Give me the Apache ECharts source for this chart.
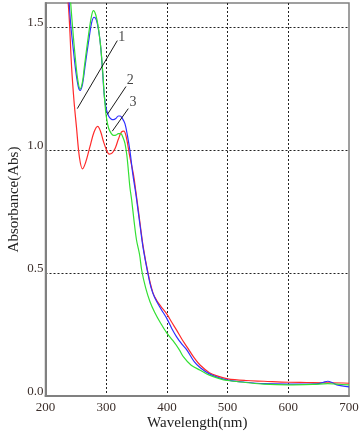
<!DOCTYPE html>
<html>
<head>
<meta charset="utf-8">
<script src="https://cdn.jsdelivr.net/npm/echarts@6/dist/echarts.min.js"></script>
<style>
html,body{margin:0;padding:0;background:#fff;}
#chart{width:362px;height:433px;}
</style>
</head>
<body>
<div id="chart"></div>
<script>
// Curve 1 (red)
const redWl  = [232,238,243,247,251,256,261,266,273,280,286,291,295,300,305,310,315,320,325,329,333,339,345,349,353,361,369,377,383,390,400,408,416,425,433,445,455,470,485,500,530,560,600,630,660,670,700];
const redAbs = [1.72,1.58,1.339,1.2,1.095,0.97,0.925,0.95,1.013,1.075,1.098,1.075,1.04,1.005,0.985,0.99,1.01,1.045,1.074,1.078,1.055,0.973,0.9,0.83,0.756,0.607,0.499,0.42,0.39,0.365,0.333,0.3,0.268,0.23,0.2,0.155,0.125,0.095,0.08,0.07,0.063,0.06,0.056,0.055,0.054,0.054,0.052];
// Curve 2 (blue)
const blueWl  = [236,239,242,246,250,254,257,261,265,268,272,276,280,284,288,291,294,297,300,304,308,312,316,320,323,327,331,335,339,344,349,353,356,361,369,374,380,390,400,408,416,425,433,445,455,470,485,500,530,560,600,630,650,658,665,672,680,700];
const blueAbs = [1.72,1.6,1.5,1.407,1.32,1.26,1.244,1.27,1.34,1.393,1.46,1.52,1.542,1.53,1.48,1.42,1.32,1.22,1.17,1.14,1.128,1.125,1.13,1.14,1.14,1.128,1.108,1.06,1.0,0.9,0.82,0.745,0.69,0.6,0.495,0.44,0.4,0.355,0.315,0.275,0.241,0.21,0.187,0.14,0.115,0.09,0.075,0.065,0.056,0.05,0.048,0.048,0.05,0.056,0.06,0.055,0.045,0.037];
// Curve 3 (green)
const greenWl  = [238.5,241.5,245,249,253,257,261,264,268,272,276,279,283,287,291,294,297,300,304,308,312,316,320,324,328,331,334,336,339,342,346,350,355,358.5,365,372,380,390,400,410,420,427,440,455,470,485,500,530,560,600,640,665,680,700];
const greenAbs = [1.72,1.6,1.49,1.379,1.29,1.25,1.28,1.34,1.417,1.49,1.55,1.569,1.55,1.501,1.42,1.33,1.22,1.14,1.09,1.07,1.061,1.062,1.068,1.068,1.05,1.027,0.98,0.932,0.851,0.797,0.71,0.634,0.575,0.512,0.44,0.385,0.34,0.295,0.256,0.225,0.19,0.16,0.125,0.105,0.085,0.072,0.063,0.055,0.048,0.045,0.047,0.05,0.048,0.045];

// Axis ticks
const xTicks = [200,300,400,500,600,700];
const yTicks = [0.0,0.5,1.0,1.5];

// Annotation leader lines: [wlStart, absStart, wlEnd, absEnd] and label
const annoNames = ['1','2','3'];
const annoLines = [[252.4,1.17,318.3,1.447],[301.8,1.146,332.6,1.26],[310,1.078,336.4,1.17]];
const annoLabelPos = [[325.5,1.462],[339.5,1.285],[344,1.195]];

const pairs = (xs, ys) => xs.map((x,i)=>[x, ys[i]]);
const font = 'Liberation Serif';

const series = [
  {name:'1', type:'line', data:pairs(redWl,redAbs), smooth:0.35, symbol:'none', clip:true, lineStyle:{color:'#ff2a2a', width:1.2}, z:3},
  {name:'2', type:'line', data:pairs(blueWl,blueAbs), smooth:0.35, symbol:'none', clip:true, lineStyle:{color:'#3030ff', width:1.2}, z:4},
  {name:'3', type:'line', data:pairs(greenWl,greenAbs), smooth:0.35, symbol:'none', clip:true, lineStyle:{color:'#33e033', width:1.2}, z:5}
];
annoLines.forEach((l,i)=>{
  series.push({type:'line', data:[[l[0],l[1]],[l[2],l[3]]], symbol:'none', lineStyle:{color:'#000', width:0.9}, z:6, silent:true});
});
series.push({type:'scatter', symbolSize:0, z:7, silent:true,
  data: annoLabelPos.map((p,i)=>({value:p, name:annoNames[i]})),
  label:{show:true, position:'inside', formatter:p=>p.name, fontFamily:font, fontSize:14, color:'#111'}});

const chart = echarts.init(document.getElementById('chart'));
chart.setOption({
  animation:false,
  backgroundColor:'#fff',
  grid:{left:45.5, right:13, top:3, bottom:37, show:true, borderColor:'#808080', borderWidth:1.5, containLabel:false, outerBoundsMode:'none'},
  xAxis:{
    type:'value', min:xTicks[0], max:xTicks[xTicks.length-1], interval:100,
    name:'Wavelength(nm)', nameLocation:'middle', nameGap:20, nameMoveOverlap:false,
    nameTextStyle:{fontFamily:font, fontSize:15, color:'#222'},
    axisLine:{show:true, lineStyle:{color:'#808080', width:2}},
    axisTick:{show:false},
    axisLabel:{fontFamily:font, fontSize:13, color:'#3b2e2a', margin:5},
    splitLine:{show:true, showMinLine:false, showMaxLine:false, lineStyle:{color:'#222', type:[2,2], width:1}}
  },
  yAxis:{
    type:'value', min:0, max:1.6, interval:0.5,
    name:'Absorbance(Abs)', nameLocation:'middle', nameGap:24, nameMoveOverlap:false,
    nameTextStyle:{fontFamily:font, fontSize:15, color:'#222'},
    axisLine:{show:true, lineStyle:{color:'#808080', width:2}},
    axisTick:{show:false},
    axisLabel:{fontFamily:font, fontSize:13, color:'#3b2e2a', margin:2, showMaxLabel:false, verticalAlign:'bottom', lineHeight:9,
      formatter:v=>v.toFixed(1)},
    splitLine:{show:true, showMinLine:false, showMaxLine:false, lineStyle:{color:'#222', type:[2,2], width:1}}
  },
  series:series
});
</script>
</body>
</html>
